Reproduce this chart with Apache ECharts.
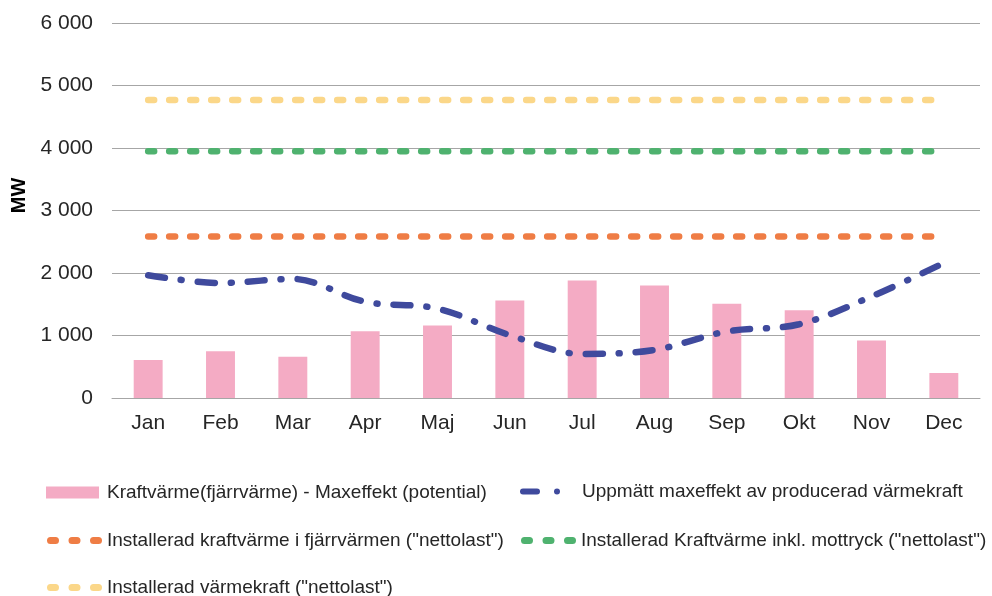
<!DOCTYPE html>
<html>
<head>
<meta charset="utf-8">
<script src="https://cdn.jsdelivr.net/npm/echarts@6/dist/echarts.min.js"></script>
<style>
  html, body { margin: 0; padding: 0; background: #fff; }
  #chart { width: 992px; height: 596px; }
</style>
</head>
<body>
<div id="chart"></div>
<script>
// data
var months = ['Jan', 'Feb', 'Mar', 'Apr', 'Maj', 'Jun', 'Jul', 'Aug', 'Sep', 'Okt', 'Nov', 'Dec'];
var maxeffektPotential = [610, 750, 660, 1070, 1160, 1560, 1880, 1800, 1510, 1405, 920, 400];
var uppmattMaxeffekt = [1965, 1840, 1905, 1540, 1430, 1005, 705, 770, 1065, 1180, 1625, 2160];
var installeradFjarrvarme = [2585, 2585, 2585, 2585, 2585, 2585, 2585, 2585, 2585, 2585, 2585, 2585];
var installeradMottryck = [3950, 3950, 3950, 3950, 3950, 3950, 3950, 3950, 3950, 3950, 3950, 3950];
var installeradVarmekraft = [4770, 4770, 4770, 4770, 4770, 4770, 4770, 4770, 4770, 4770, 4770, 4770];

var names = [
    'Kraftvärme(fjärrvärme) - Maxeffekt (potential)',
    'Uppmätt maxeffekt av producerad värmekraft',
    'Installerad kraftvärme i fjärrvärmen ("nettolast")',
    'Installerad Kraftvärme inkl. mottryck ("nettolast")',
    'Installerad värmekraft ("nettolast")'
];
var colors = ['#F4ABC4', '#3F4A9D', '#EF7D45', '#4FB26F', '#FBD789'];

var textColor = '#262626';
var fontFam = '"Liberation Sans", Arial, sans-serif';

// legend icons: three rounded dashes, and a dash + dot
var dotsIcon = 'path://M3.5,0L8.5,0A3.5,3.5,0,0,1,8.5,7L3.5,7A3.5,3.5,0,0,1,3.5,0Z' +
    'M25,0L30,0A3.5,3.5,0,0,1,30,7L25,7A3.5,3.5,0,0,1,25,0Z' +
    'M46.5,0L51.5,0A3.5,3.5,0,0,1,51.5,7L46.5,7A3.5,3.5,0,0,1,46.5,0Z';
var dashDotIcon = 'path://M3,0L17,0A3,3,0,0,1,17,6L3,6A3,3,0,0,1,3,0Z' +
    'M34,3A3,3,0,1,1,40,3A3,3,0,1,1,34,3Z';

function dottedLine(name, data, color) {
    return {
        name: name,
        type: 'line',
        data: data,
        symbol: 'none',
        silent: true,
        lineStyle: { color: color, width: 6.5, type: [6, 15], cap: 'round' },
        itemStyle: { color: color },
        z: 3
    };
}

function legendAt(name, icon, left, top, w, h, gap) {
    return {
        data: [{ name: name, icon: icon }],
        left: left,
        top: top,
        padding: 0,
        itemWidth: w,
        itemHeight: h,
        selectedMode: false,
        textStyle: { color: textColor, fontSize: 19, fontFamily: fontFam, padding: [0, 0, 0, gap] }
    };
}

var chart = echarts.init(document.getElementById('chart'), null, { renderer: 'canvas' });
chart.setOption({
    animation: false,
    grid: { left: 112, right: 12, top: 23, bottom: 198 },
    legend: [
        legendAt(names[0], 'rect', 46, 483, 53, 12, 3),
        legendAt(names[1], dashDotIcon, 520, 482, 40, 6, 17),
        legendAt(names[2], dotsIcon, 47, 531, 55, 7, 0),
        legendAt(names[3], dotsIcon, 521, 531, 55, 7, 0),
        legendAt(names[4], dotsIcon, 47, 578, 55, 7, 0)
    ],
    xAxis: {
        type: 'category',
        data: months,
        axisLine: { lineStyle: { color: '#A6A6A6', width: 1 } },
        axisTick: { show: false },
        axisLabel: { color: textColor, fontSize: 21, fontFamily: fontFam, margin: 15 }
    },
    yAxis: {
        type: 'value',
        min: 0,
        max: 6000,
        interval: 1000,
        name: 'MW',
        nameLocation: 'middle',
        nameRotate: 90,
        nameGap: 83,
        nameTextStyle: { color: '#000', fontSize: 20, fontWeight: 'bold', fontFamily: fontFam, padding: [0, 0, 0, 30] },
        axisLine: { show: false },
        axisTick: { show: false },
        splitLine: { lineStyle: { color: '#A6A6A6', width: 1 } },
        axisLabel: {
            color: textColor, fontSize: 21, fontFamily: fontFam, margin: 19,
            formatter: function (v) { return String(v).replace(/\B(?=(\d{3})+(?!\d))/g, ' '); }
        }
    },
    series: [
        {
            name: names[0],
            type: 'bar',
            data: maxeffektPotential,
            barWidth: '40%',
            itemStyle: { color: colors[0] },
            z: 2
        },
        {
            name: names[1],
            type: 'line',
            data: uppmattMaxeffekt,
            smooth: 0.35,
            symbol: 'none',
            lineStyle: { color: colors[1], width: 6.5, type: [17, 16, 1, 16], cap: 'round' },
            itemStyle: { color: colors[1] },
            z: 4
        },
        dottedLine(names[2], installeradFjarrvarme, colors[2]),
        dottedLine(names[3], installeradMottryck, colors[3]),
        dottedLine(names[4], installeradVarmekraft, colors[4])
    ]
});
</script>
</body>
</html>
